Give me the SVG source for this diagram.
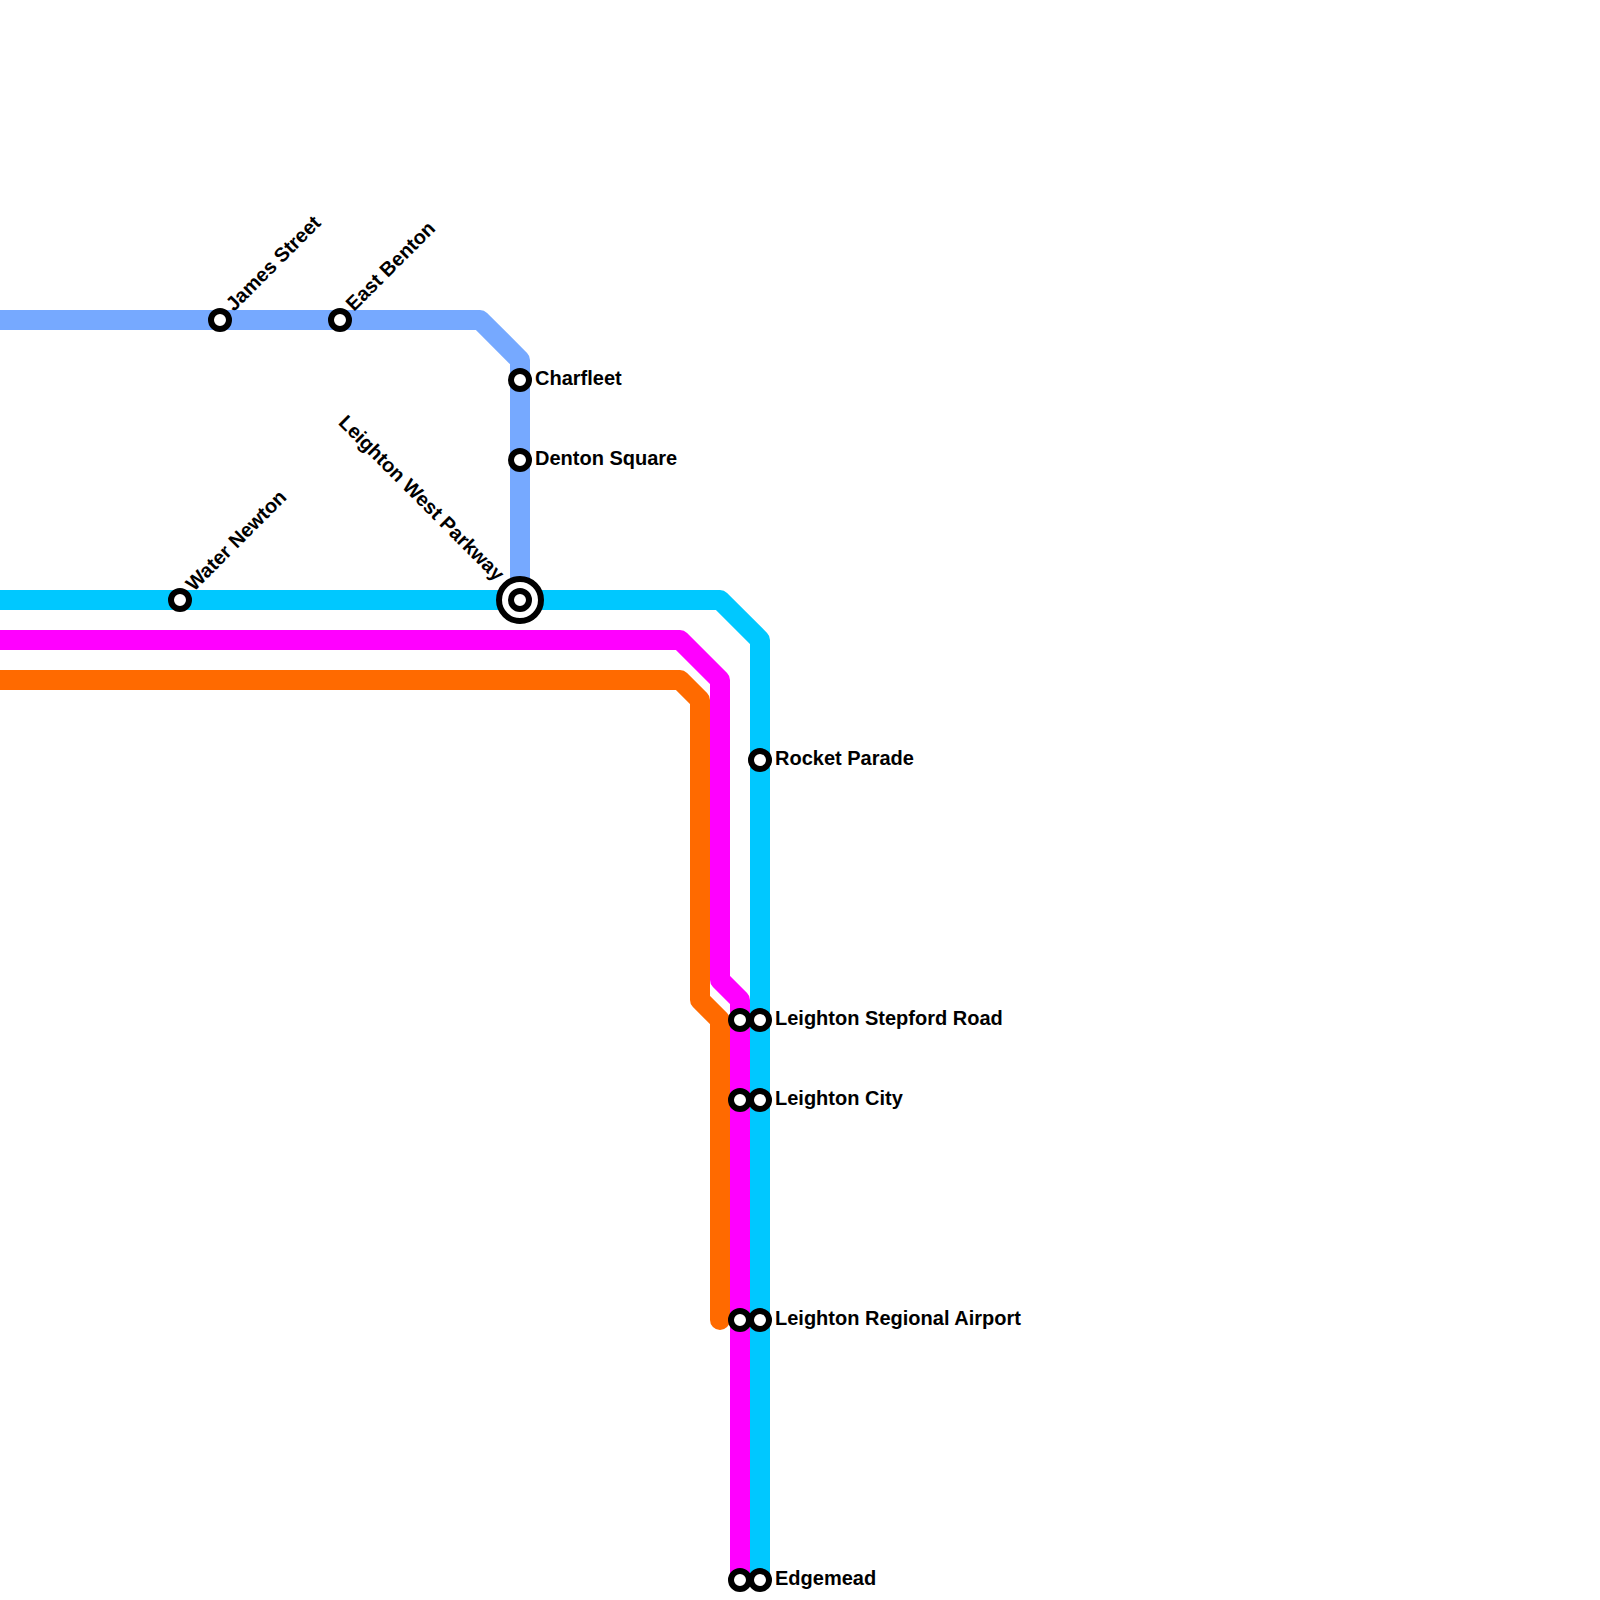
<svg xmlns="http://www.w3.org/2000/svg" width="1600" height="1600" viewBox="0 0 1600 1600">
<style>
.line{fill:none;stroke-width:20;stroke-linecap:round;stroke-linejoin:round}
.st{fill:#fff;stroke:#000;stroke-width:6}
.lb{font-family:"Liberation Sans",Arial,sans-serif;font-weight:700;font-size:20px;fill:#000}
</style>
<rect width="1600" height="1600" fill="#fff"/>
<g id="connectors">
<path class="line" stroke="#76a9ff" d="M-20 320H480L520 360V600"/>
<path class="line" stroke="#ff6a00" d="M-20 680H680L700 700V1000L720 1020V1320"/>
<path class="line" stroke="#ff00ff" d="M-20 640H680L720 680V980L740 1000V1580"/>
<path class="line" stroke="#00c8ff" d="M-20 600H720L760 640V1580"/>
</g>
<g id="james-street"><circle class="st" cx="220" cy="320" r="9"/><text class="lb" transform="translate(234 312) rotate(-45)">James Street</text></g>
<g id="east-benton"><circle class="st" cx="340" cy="320" r="9"/><text class="lb" transform="translate(354 312) rotate(-45)">East Benton</text></g>
<g id="charfleet"><circle class="st" cx="520" cy="380" r="9"/><text class="lb" x="535" y="385">Charfleet</text></g>
<g id="denton-square"><circle class="st" cx="520" cy="460" r="9"/><text class="lb" x="535" y="465">Denton Square</text></g>
<g id="water-newton"><circle class="st" cx="180" cy="600" r="9"/><text class="lb" transform="translate(194 592) rotate(-45)">Water Newton</text></g>
<g id="leighton-west-parkway"><circle cx="520" cy="600" r="21" fill="#fff" stroke="#000" stroke-width="6"/><circle class="st" cx="520" cy="600" r="9"/><text class="lb" text-anchor="end" transform="translate(496 582) rotate(45)">Leighton West Parkway</text></g>
<g id="rocket-parade"><circle class="st" cx="760" cy="760" r="9"/><text class="lb" x="775" y="765">Rocket Parade</text></g>
<g id="leighton-stepford-road"><circle class="st" cx="740" cy="1020" r="9"/><circle class="st" cx="760" cy="1020" r="9"/><text class="lb" x="775" y="1025">Leighton Stepford Road</text></g>
<g id="leighton-city"><circle class="st" cx="740" cy="1100" r="9"/><circle class="st" cx="760" cy="1100" r="9"/><text class="lb" x="775" y="1105">Leighton City</text></g>
<g id="leighton-regional-airport"><circle class="st" cx="740" cy="1320" r="9"/><circle class="st" cx="760" cy="1320" r="9"/><text class="lb" x="775" y="1325">Leighton Regional Airport</text></g>
<g id="edgemead"><circle class="st" cx="740" cy="1580" r="9"/><circle class="st" cx="760" cy="1580" r="9"/><text class="lb" x="775" y="1585">Edgemead</text></g>
</svg>
